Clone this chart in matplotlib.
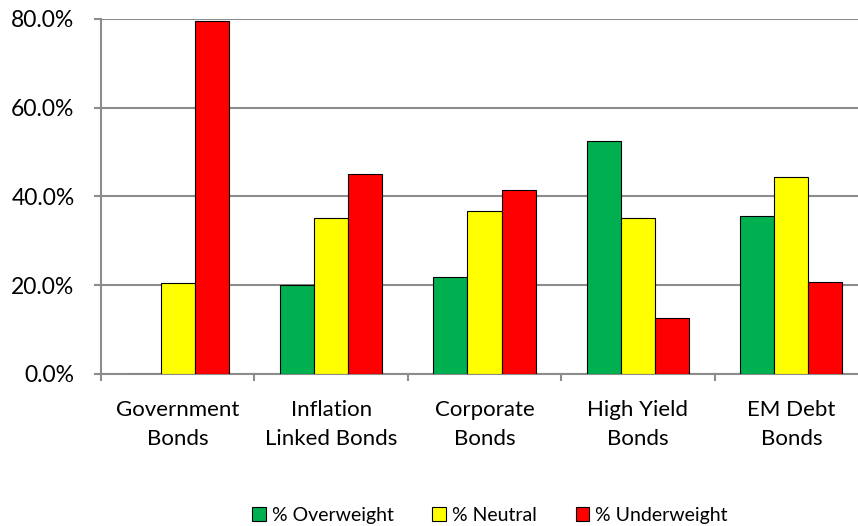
import matplotlib.pyplot as plt
import numpy as np
from matplotlib.patches import Patch
from matplotlib.ticker import PercentFormatter

categories = ["Government\nBonds", "Inflation\nLinked Bonds", "Corporate\nBonds",
              "High Yield\nBonds", "EM Debt\nBonds"]
overweight = [0.0, 20.0, 21.9, 52.6, 35.5]
neutral = [20.4, 35.1, 36.7, 35.2, 44.4]
underweight = [79.6, 45.1, 41.5, 12.7, 20.8]
series_names = ["% Overweight", "% Neutral", "% Underweight"]
colors = ["#00B050", "#FFFF00", "#FF0000"]

plt.rcParams["font.family"] = ["Lato", "DejaVu Sans"]

fig = plt.figure(figsize=(8.58, 5.26), dpi=100)
# plot area runs past the right edge of the canvas
ax = fig.add_axes([0.1177, 0.289, 0.894, 0.675])

x = np.arange(len(categories))
w = 0.222
for i, (vals, col) in enumerate(zip([overweight, neutral, underweight], colors)):
    ax.bar(x + (i - 1) * w, vals, w, color=col, edgecolor="black", linewidth=0.8, zorder=3)

ax.set_xlim(-0.5, len(categories) - 0.5)
ax.set_ylim(0, 80)
ax.set_yticks(np.arange(0, 81, 20))
ax.yaxis.set_major_formatter(PercentFormatter(decimals=1))
ax.yaxis.grid(True, color="#8c8c8c", linewidth=1.5, zorder=0)

# category boundaries carry the tick marks, labels sit at the centres
ax.set_xticks(np.arange(-0.5, len(categories)))
ax.set_xticklabels([])
ax.set_xticks(x, minor=True)
ax.set_xticklabels(categories, minor=True, fontsize=16, linespacing=1.55)
ax.tick_params(axis="x", which="minor", length=0, pad=19)
ax.tick_params(axis="x", which="major", length=5, width=1.5, color="#8c8c8c")
ax.tick_params(axis="y", length=5, width=1.5, color="#8c8c8c", labelsize=16.5, pad=14)

for side in ["top", "right"]:
    ax.spines[side].set_visible(False)
for side in ["left", "bottom"]:
    ax.spines[side].set_color("#8c8c8c")
    ax.spines[side].set_linewidth(1.5)

handles = [Patch(facecolor=c, edgecolor="black", linewidth=0.8) for c in colors]
fig.legend(handles, series_names, loc="center", bbox_to_anchor=(0.571, 0.02),
           ncol=3, frameon=False, fontsize=14, handlelength=0.7, handleheight=0.7,
           handletextpad=0.3, columnspacing=2.0)

fig.savefig("out.png", dpi=100)
